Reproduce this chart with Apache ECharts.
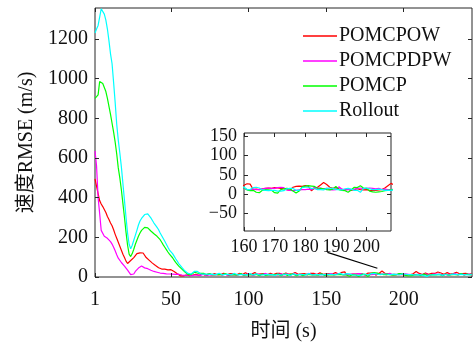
<!DOCTYPE html>
<html>
<head>
<meta charset="utf-8">
<script src="https://cdn.jsdelivr.net/npm/echarts@6/dist/echarts.min.js"></script>
<style>
html,body{margin:0;padding:0;background:#fff;}
#c{width:473px;height:347px;}
</style>
</head>
<body>
<div id="c"></div>
<script>
// ---- data (time steps 1..244) ----
const seriesNames = ['POMCPOW', 'POMCPDPW', 'POMCP', 'Rollout'];

const pomcpow = [
495,505,420,385,368,355,340,325,305,290,272,258,238,215,195,175,155,135,115,98,
80,68,75,83,90,98,108,118,120,122,120,121,112,98,90,84,76,70,64,58,
52,47,44,40,38,40,38,36,38,37,33,28,22,16,10,6,4,6,8,10,
9,7,8,10,12,
14,10,8,12,15,11,9,13,16,12,
10,14,18,15,11,9,12,16,19,14,
11,13,17,20,16,12,10,14,18,15,
12,16,21,18,13,11,15,19,22,17,
13,12,16,20,17,14,11,15,19,16,
12,14,18,22,19,15,12,16,20,17,
14,12,15,19,23,18,14,12,16,20,
17,13,11,15,19,22,18,14,12,16,
21,18,14,12,16,20,17,13,15,19,
22,18,15,20,
23,27,26,12,13,12,14,15,16,15,
17,16,15,14,12,10,18,20,21,20,
22,21,9,15,18,24,30,25,18,15,
17,14,12,11,13,10,12,14,12,11,
12,10,9,10,11,12,16,22,28,24,
18,14,12,16,20,17,13,15,19,22,
18,21,25,24,20,16,14,18,22,19,
15,13,17,21,24,20,16,13,17,21,
18,14,12,16,19
];

const pomcpdpw = [
635,560,400,320,235,225,205,198,195,188,178,166,150,132,112,95,85,73,63,55,
45,35,25,12,3,15,28,38,45,52,55,50,46,45,42,38,34,30,28,26,
24,22,20,19,18,17,16,16,15,15,14,14,13,12,14,12,10,9,8,10,
12,8,6,8,10,
12,9,6,8,11,14,10,7,9,12,
15,11,8,10,13,16,12,9,11,14,
10,7,9,12,15,11,8,10,13,16,
12,9,11,14,17,13,10,8,11,14,
17,13,10,12,15,18,14,11,9,12,
15,12,9,11,14,16,12,10,13,15,
11,9,12,15,17,13,10,12,14,11,
9,12,15,18,14,11,9,13,16,12,
10,13,15,12,9,11,14,17,13,11,
13,15,12,14,
15,12,11,13,12,12,14,15,16,15,
15,17,18,17,11,10,9,10,11,12,
12,13,12,18,15,16,14,15,12,11,
12,19,13,11,12,12,13,15,16,14,
15,16,15,14,15,12,13,12,12,13,
15,12,10,13,16,14,11,9,12,15,
18,14,11,13,16,12,10,12,15,13,
10,12,15,17,13,11,14,16,12,10,
13,15,12,14,11
];

const pomcp = [
900,905,918,985,995,975,955,935,900,860,820,775,730,680,620,550,500,440,370,300,
225,160,115,103,118,140,165,185,205,222,235,243,250,252,248,240,232,225,218,212,
205,198,188,175,162,150,138,126,115,105,97,85,74,64,55,47,40,32,25,18,
13,10,12,18,24,
26,20,15,18,22,19,14,11,13,17,
14,10,8,12,16,13,9,11,15,18,
14,10,7,11,15,12,8,10,14,17,
13,9,6,10,14,11,8,12,16,13,
9,7,11,15,12,8,6,10,14,11,
8,12,16,13,9,7,11,15,12,8,
10,14,17,13,9,6,10,14,11,7,
9,13,16,12,8,10,14,11,7,9,
13,16,12,8,6,10,14,12,9,11,
15,12,9,13,
17,11,9,10,5,4,10,12,11,10,
4,3,12,14,15,13,8,3,8,19,
21,22,21,20,16,15,14,12,11,13,
20,12,10,9,5,11,18,17,22,16,
15,8,6,5,6,7,9,10,11,12,
9,7,11,15,12,8,6,10,14,12,
9,11,15,13,9,7,10,14,12,8,
10,13,16,12,9,11,14,17,13,10,
12,15,13,10,14
];

const rollout = [
1230,1250,1268,1278,1352,1345,1325,1295,1250,1190,1125,1075,980,880,770,690,625,555,470,385,
300,220,165,142,160,185,210,235,262,282,295,305,315,324,318,308,298,285,272,262,
250,238,222,208,194,180,165,150,136,128,118,105,92,80,68,58,48,38,30,24,
18,14,15,22,28,
30,28,22,16,12,14,18,15,11,13,
17,14,10,12,16,19,15,11,9,13,
16,13,10,12,15,18,14,11,9,12,
15,12,9,11,14,17,13,10,12,16,
13,10,8,11,15,12,9,13,16,12,
10,8,12,15,13,9,11,14,17,13,
10,8,12,16,13,10,9,13,15,12,
9,11,14,17,13,10,8,12,15,12,
9,11,14,12,10,13,16,13,10,12,
15,13,16,18,
18,12,12,17,18,16,11,10,9,10,
10,8,8,9,14,15,15,10,10,17,
18,18,15,14,12,12,11,15,16,15,
12,12,11,14,15,13,10,10,5,15,
16,14,12,12,13,12,10,10,10,12,
14,11,9,7,5,3,6,10,13,11,
9,12,15,13,10,8,11,14,12,9,
11,14,16,13,10,12,15,13,10,12,
14,11,9,12,15
];

const xTicks = [1, 50, 100, 150, 200];
const yTicks = [0, 200, 400, 600, 800, 1000, 1200];
const insetXTicks = [160, 170, 180, 190, 200];
const insetYTicks = [-50, 0, 50, 100, 150];
const arrowStart = [150.8, 124];
const arrowEnd = [183, 44];

// ---- chart ----
const colors = ['#ff0000', '#ff00ff', '#00ff00', '#00ffff'];
const valueArrays = [pomcpow, pomcpdpw, pomcp, rollout];
const toPairs = arr => arr.map((v, i) => [i + 1, v]);

const FONT = '"Liberation Serif", "Noto Sans CJK SC", serif';
const AX = '#262626';
const fmt = v => String(v).replace('-', '\u2212');

function axisDef(gridIndex, min, max, ticks, pos, showLabel, fs, margin) {
  return {
    type: 'value', gridIndex, min, max, position: pos,
    axisLine: { show: false, onZero: false },
    axisTick: { show: true, inside: true, length: 4, customValues: ticks, lineStyle: { color: AX } },
    axisLabel: { show: showLabel, customValues: ticks, formatter: fmt, color: '#111', fontFamily: FONT, fontSize: fs, margin: margin },
    splitLine: { show: false },
    z: 6
  };
}

const xMain = axisDef(0, 1, 244, xTicks, 'bottom', true, 20, 13);
xMain.name = '时间 (s)';
xMain.nameLocation = 'middle';
xMain.nameGap = 45;
xMain.nameTextStyle = { fontFamily: FONT, fontSize: 20, color: '#111' };

const yMain = axisDef(0, 0, 1356, yTicks, 'left', true, 20, 7);
yMain.name = '速度RMSE (m/s)';
yMain.nameLocation = 'middle';
yMain.nameGap = 55;
yMain.nameTextStyle = { fontFamily: FONT, fontSize: 20, color: '#111' };

const xInset = axisDef(1, 160, 208, insetXTicks, 'bottom', true, 18, 7);
const yInset = axisDef(1, -95, 158, insetYTicks, 'left', true, 18, 7);

const series = [];
seriesNames.forEach((n, k) => {
  series.push({
    name: n, type: 'line', xAxisIndex: 0, yAxisIndex: 0,
    data: toPairs(valueArrays[k]), symbol: 'none', smooth: false,
    lineStyle: { color: colors[k], width: 1.2 }, itemStyle: { color: colors[k] },
    z: 3, silent: true, animation: false
  });
});
seriesNames.forEach((n, k) => {
  series.push({
    name: n, type: 'line', xAxisIndex: 2, yAxisIndex: 2,
    data: toPairs(valueArrays[k]), symbol: 'none', clip: true,
    lineStyle: { color: colors[k], width: 1.2 }, itemStyle: { color: colors[k] },
    z: 5, silent: true, animation: false
  });
});
series.push({
  name: 'arrow', type: 'line', xAxisIndex: 0, yAxisIndex: 0, data: [],
  silent: true, animation: false,
  markLine: {
    silent: true, animation: false,
    symbol: ['none', 'arrow'], symbolSize: [0, 12],
    label: { show: false },
    lineStyle: { color: '#000', width: 1.2, type: 'solid' },
    data: [[{ coord: arrowStart }, { coord: arrowEnd }]]
  }
});

const option = {
  backgroundColor: '#fff',
  animation: false,
  grid: [
    { left: 95, top: 8, right: 1, bottom: 69, show: true, borderColor: AX, borderWidth: 1, backgroundColor: 'transparent' },
    { left: 244, top: 133, width: 147, height: 98, show: true, backgroundColor: '#fff', borderColor: AX, borderWidth: 1 }
  ],
  xAxis: [
    xMain,
    axisDef(0, 1, 244, xTicks, 'top', false, 20, 8),
    xInset,
    axisDef(1, 160, 208, insetXTicks, 'top', false, 18, 8)
  ],
  yAxis: [
    yMain,
    axisDef(0, 0, 1356, yTicks, 'right', false, 20, 8),
    yInset,
    axisDef(1, -95, 158, insetYTicks, 'right', false, 18, 8)
  ],
  legend: {
    data: seriesNames.map(n => ({ name: n, icon: 'rect' })),
    orient: 'vertical', left: 298, top: 21,
    itemWidth: 34, itemHeight: 1.5, itemGap: 5,
    textStyle: { fontFamily: FONT, fontSize: 20, color: '#111', lineHeight: 20, padding: [0, 0, 0, -3] },
    selectedMode: false
  },
  series
};

const chart = echarts.init(document.getElementById('c'), null, { renderer: 'canvas' });
chart.setOption(option);
</script>
</body>
</html>
